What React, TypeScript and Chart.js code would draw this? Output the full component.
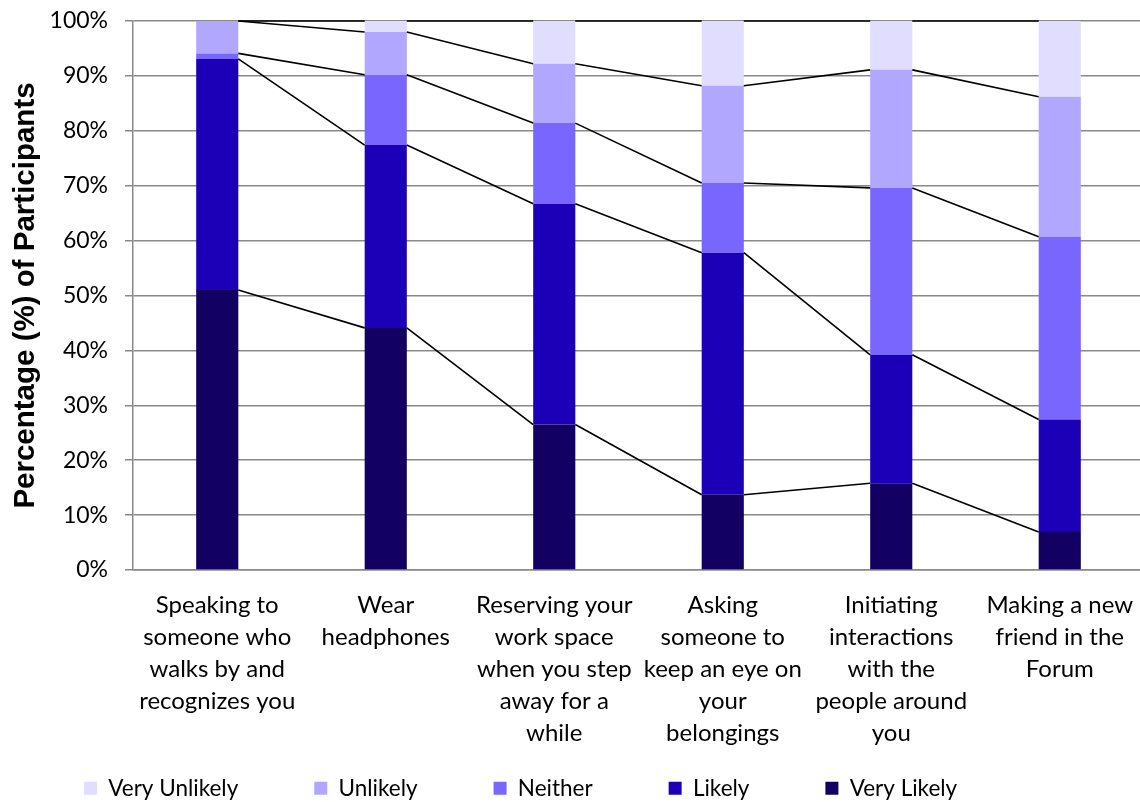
import React, { useEffect, useRef } from "react";
import { Chart, registerables } from "chart.js";

Chart.register(...registerables);

// Categories (multi-line x labels)
const categories: string[][] = [
  ["Speaking to", "someone who", "walks by and", "recognizes you"],
  ["Wear", "headphones"],
  ["Reserving your", "work space", "when you step", "away for a", "while"],
  ["Asking", "someone to", "keep an eye on", "your", "belongings"],
  ["Initiating", "interactions", "with the", "people around", "you"],
  ["Making a new", "friend in the", "Forum"],
];

// Series values (% of participants), stacked bottom to top
const veryLikely = [51.0, 44.1, 26.5, 13.7, 15.8, 6.9];
const likely = [42.1, 33.3, 40.2, 44.1, 23.4, 20.5];
const neither = [1.0, 12.8, 14.7, 12.7, 30.4, 33.3];
const unlikely = [5.9, 7.8, 10.8, 17.7, 21.5, 25.5];
const veryUnlikely = [0.0, 2.0, 7.8, 11.8, 8.9, 13.8];

const seriesNames = ["Very Likely", "Likely", "Neither", "Unlikely", "Very Unlikely"];
const seriesColors = ["#120062", "#1C00B8", "#7966FF", "#B1A7FF", "#E1DDFF"];

const yTickValues = [0, 10, 20, 30, 40, 50, 60, 70, 80, 90, 100];
const yTitle = "Percentage (%) of Participants";

const LEGEND_TOP = 701;

// Excel-style series lines joining the top of each segment to the next bar
const seriesLinesPlugin = {
  id: "seriesLines",
  afterDatasetsDraw(chart: any) {
    const ctx = chart.ctx;
    ctx.save();
    ctx.strokeStyle = "#000000";
    ctx.lineWidth = 1.6;
    chart.data.datasets.forEach((_: any, di: number) => {
      const meta = chart.getDatasetMeta(di);
      const els = meta.data;
      for (let i = 0; i < els.length - 1; i++) {
        const a = els[i];
        const b = els[i + 1];
        ctx.beginPath();
        ctx.moveTo(a.x + a.width / 2, a.y);
        ctx.lineTo(b.x - b.width / 2, b.y);
        ctx.stroke();
      }
    });
    ctx.restore();
  },
};

// place the legend row below the (tall) category labels
const legendPlacePlugin = {
  id: "legendPlace",
  afterLayout(chart: any) {
    const lg = chart.legend;
    if (!lg) return;
    lg.top = LEGEND_TOP;
    lg.bottom = chart.height;
    lg.height = lg.bottom - lg.top;
  },
};

export default function App() {
  const canvasRef = useRef<HTMLCanvasElement | null>(null);

  useEffect(() => {
    document.body.style.margin = "0";
    const canvas = canvasRef.current;
    if (!canvas) return;
    const values = [veryLikely, likely, neither, unlikely, veryUnlikely];
    const chart = new Chart(canvas, {
      type: "bar",
      data: {
        labels: categories,
        datasets: values.map((v, i) => ({
          label: seriesNames[i],
          data: v,
          backgroundColor: seriesColors[i],
          borderWidth: 0,
          barPercentage: 0.25,
          categoryPercentage: 1,
        })),
      },
      options: {
        responsive: false,
        animation: false,
        layout: { padding: { left: 8, right: 0, top: 21, bottom: 0 } },
        plugins: {
          legend: {
            position: "bottom",
            align: "start",
            reverse: true,
            maxHeight: 40,
            labels: {
              boxWidth: 13,
              boxHeight: 13,
              padding: 76,
              color: "#000000",
              font: { family: "Lato", size: 22.5 },
            },
          },
          tooltip: { enabled: false },
        },
        scales: {
          x: {
            stacked: true,
            grid: {
              display: true,
              drawOnChartArea: false,
              drawTicks: true,
              tickLength: 19,
              tickColor: "rgba(0,0,0,0)",
            },
            border: { display: true, color: "#898989", width: 1.5 },
            ticks: {
              autoSkip: false,
              maxRotation: 0,
              minRotation: 0,
              padding: 0,
              color: "#000000",
              font: { family: "Lato", size: 24, lineHeight: 1.333 },
            },
            afterFit(scale: any) {
              scale.height = 192;
            },
          },
          y: {
            stacked: true,
            min: 0,
            max: 100,
            afterBuildTicks(scale: any) {
              scale.ticks = yTickValues.map((v) => ({ value: v }));
            },
            grid: { color: "#898989", lineWidth: 1.5, tickLength: 8 },
            border: { display: true, color: "#898989", width: 1.5 },
            ticks: {
              padding: 17,
              color: "#000000",
              font: { family: "Lato", size: 23, lineHeight: 0.3 },
              callback: (v: any) => v + "%",
            },
            title: {
              display: true,
              text: yTitle,
              color: "#000000",
              padding: { top: 0, bottom: 0 },
              font: { family: "Liberation Sans", size: 29.5, weight: "bold" },
            },
            afterFit(scale: any) {
              scale.width = 125;
            },
          },
        },
      },
      plugins: [seriesLinesPlugin, legendPlacePlugin],
    });
    return () => chart.destroy();
  }, []);

  return (
    <div style={{ width: 1140, height: 802, overflow: "hidden" }}>
      <canvas ref={canvasRef} width={1144} height={802} style={{ display: "block" }} />
    </div>
  );
}
